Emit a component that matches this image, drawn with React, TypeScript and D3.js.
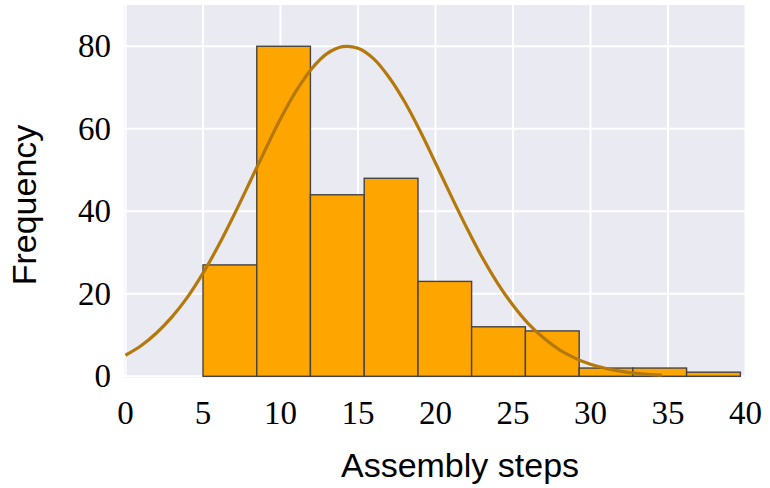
import React, { useEffect, useRef } from 'react';
import * as d3 from 'd3';

// histogram bins (left edges) and counts
const binEdges = [5, 8.47, 11.93, 15.4, 18.87, 22.33, 25.8, 29.27, 32.73, 36.2, 39.67];
const counts = [27, 80, 44, 48, 23, 12, 11, 2, 2, 1];

// fitted curve
const curveX = [0, 1, 2, 3, 4, 5, 6, 7, 8, 9, 10, 11, 12, 13, 14, 15, 16, 17, 18, 19, 20, 21, 22, 23, 24, 25, 26, 27, 28, 29, 30, 31, 32, 33, 34, 34.6];
const curveY = [5.1, 7.4, 10.5, 14.4, 19.2, 25.0, 31.7, 39.1, 46.9, 54.8, 62.4, 69.1, 74.5, 78.2, 79.9, 79.5, 77.0, 72.5, 66.6, 59.5, 51.7, 43.8, 36.1, 28.9, 22.6, 17.2, 12.7, 9.2, 6.4, 4.4, 2.9, 1.9, 1.2, 0.7, 0.4, 0.3];

const xTicks = [0, 5, 10, 15, 20, 25, 30, 35, 40];
const yTicks = [0, 20, 40, 60, 80];

const App = () => {
  const svgRef = useRef(null);

  useEffect(() => {
    const svg = d3.select(svgRef.current);
    svg.selectAll('*').remove();

    const left = 125.5, right = 745.5, top = 5, bottom = 376.3;
    const x = d3.scaleLinear().domain([0, 40]).range([left, right]);
    const y = d3.scaleLinear().domain([0, 90]).range([bottom, top]);

    // background
    svg.append('rect')
      .attr('x', left - 1.5).attr('y', top)
      .attr('width', right - left + 1.5).attr('height', bottom - top + 1.5)
      .attr('fill', '#eaeaf2');

    // grid
    svg.append('g').selectAll('line').data(xTicks).enter().append('line')
      .attr('x1', d => x(d)).attr('x2', d => x(d))
      .attr('y1', top).attr('y2', bottom)
      .attr('stroke', '#fff').attr('stroke-width', 2);
    svg.append('g').selectAll('line').data(yTicks).enter().append('line')
      .attr('x1', left - 1.5).attr('x2', right)
      .attr('y1', d => y(d)).attr('y2', d => y(d))
      .attr('stroke', '#fff').attr('stroke-width', 2);

    // bars
    svg.append('g').selectAll('rect').data(counts).enter().append('rect')
      .attr('x', (d, i) => x(binEdges[i]))
      .attr('y', d => y(d))
      .attr('width', (d, i) => x(binEdges[i + 1]) - x(binEdges[i]))
      .attr('height', d => y(0) - y(d))
      .attr('fill', '#ffa500')
      .attr('stroke', '#444')
      .attr('stroke-width', 1.4);

    // fitted curve
    const line = d3.line<number>()
      .x((d, i) => x(curveX[i]))
      .y(d => y(d))
      .curve(d3.curveCatmullRom);
    svg.append('path')
      .attr('d', line(curveY))
      .attr('fill', 'none')
      .attr('stroke', '#b5780b')
      .attr('stroke-width', 3.2);

    // tick labels
    svg.append('g').selectAll('text').data(xTicks).enter().append('text')
      .attr('x', d => x(d)).attr('y', 424)
      .attr('text-anchor', 'middle')
      .attr('font-family', '"Liberation Serif", serif')
      .attr('font-size', 33)
      .text(d => d);
    svg.append('g').selectAll('text').data(yTicks).enter().append('text')
      .attr('x', 111).attr('y', d => y(d) + 11)
      .attr('text-anchor', 'end')
      .attr('font-family', '"Liberation Serif", serif')
      .attr('font-size', 33)
      .text(d => d);

    // axis titles
    svg.append('text')
      .attr('x', 460).attr('y', 477)
      .attr('text-anchor', 'middle')
      .attr('font-family', '"Liberation Sans", Arial, sans-serif')
      .attr('font-size', 34)
      .text('Assembly steps');
    svg.append('text')
      .attr('transform', 'translate(36,205) rotate(-90)')
      .attr('text-anchor', 'middle')
      .attr('font-family', '"Liberation Sans", Arial, sans-serif')
      .attr('font-size', 34)
      .text('Frequency');
  }, []);

  return (
    <svg ref={svgRef} width={770} height={488} style={{ position: 'absolute', left: 0, top: 0, background: '#fff' }} />
  );
};

export default App;
